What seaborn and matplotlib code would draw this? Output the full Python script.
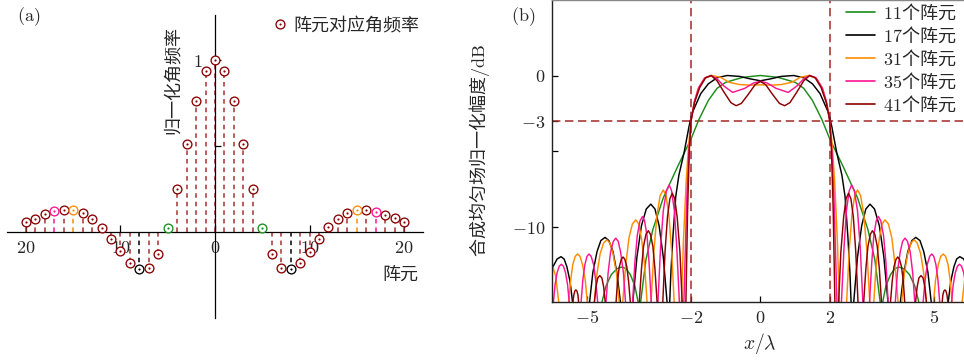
import numpy as np
import pandas as pd
import matplotlib
matplotlib.use("Agg")
import matplotlib.pyplot as plt
import seaborn as sns
from matplotlib.lines import Line2D
from matplotlib.legend_handler import HandlerTuple

# ---------------- data: panel (a) ----------------
elements = list(range(-20, 21))
ang_freq = [0.058, 0.074, 0.103, 0.122, 0.126, 0.126, 0.109, 0.074, 0.025, -0.042,
            -0.110, -0.182, -0.217, -0.207, -0.130, 0.025, 0.252, 0.513, 0.762, 0.936,
            1.000,
            0.936, 0.762, 0.513, 0.252, 0.025, -0.130, -0.207, -0.217, -0.178, -0.114,
            -0.039, 0.029, 0.074, 0.109, 0.126, 0.126, 0.118, 0.099, 0.078, 0.058]

array_sizes = [11, 17, 31, 35, 41]
size_labels = ["$11$个阵元", "$17$个阵元", "$31$个阵元", "$35$个阵元", "$41$个阵元"]
size_colors = ["#1c8c1c", "#000000", "#ff8c00", "#ff1493", "#8b0000"]

# ---------------- data: panel (b), x >= 0 half (pattern is symmetric) ----------------
x_11 = [0, 0.5, 1.0, 1.25, 1.5, 1.77, 2.0, 2.4, 2.8, 3.1, 3.3, 3.47,
        3.50, 3.62, 3.75, 3.87, 3.99, 4.14, 4.30, 4.45, 4.60]
db_11 = [0, -0.12, -0.45, -0.85, -1.65, -2.9, -4.2, -6.1, -8.1, -10.2, -12.2, -15.3,
         -15.3, -13.93, -13.19, -12.80, -12.68, -12.80, -13.19, -13.93, -15.3]

x_17 = [0, 0.3, 0.6, 0.96, 1.25, 1.5, 1.72, 1.97, 2.06, 2.20, 2.35, 2.44, 2.52, 2.58, 2.62,
        2.68, 2.80, 2.92, 3.04, 3.16, 3.29, 3.43, 3.56, 3.69,
        4.02, 4.14, 4.25, 4.37, 4.48, 4.60, 4.71, 4.83, 4.94,
        5.40, 5.49, 5.58, 5.66, 5.75, 5.86, 5.98, 6.09, 6.20]
db_17 = [-0.35, -0.22, -0.06, 0, -0.15, -0.55, -1.2, -2.5, -3.4, -5.1, -6.6, -8.0, -10.6, -13.0, -15.3,
         -15.3, -12.02, -9.95, -8.84, -8.52, -8.84, -9.95, -12.02, -15.3,
         -15.3, -13.03, -11.66, -10.93, -10.72, -10.93, -11.66, -13.03, -15.3,
         -15.3, -13.62, -12.66, -12.15, -12.0, -12.15, -12.66, -13.62, -15.3]

x_31 = [0, 0.3, 0.6, 0.9, 1.15, 1.40, 1.62, 1.80, 1.92, 2.0, 2.07, 2.14, 2.22, 2.28,
        2.48, 2.56, 2.64, 2.72, 2.80, 2.89, 2.98, 3.07, 3.16,
        3.26, 3.34, 3.43, 3.51, 3.59, 3.69, 3.79, 3.88, 3.98,
        4.06, 4.15, 4.25, 4.34, 4.43, 4.52, 4.62, 4.71, 4.80,
        4.98, 5.05, 5.13, 5.20, 5.27, 5.34, 5.41, 5.47, 5.54,
        5.80, 5.90, 6.00, 6.10]
db_31 = [-0.62, -0.64, -0.6, -0.45, -0.12, 0, -0.2, -0.9, -1.9, -3.0, -4.6, -7.0, -11.0, -15.3,
         -15.3, -11.59, -9.21, -7.95, -7.58, -7.95, -9.21, -11.59, -15.3,
         -15.3, -12.50, -10.76, -9.83, -9.56, -9.83, -10.76, -12.50, -15.3,
         -15.3, -13.10, -11.79, -11.09, -10.88, -11.09, -11.79, -13.10, -15.3,
         -15.3, -13.54, -12.52, -11.98, -11.82, -11.98, -12.52, -13.54, -15.3,
         -15.3, -13.3, -12.6, -12.4]

x_35 = [0, 0.2, 0.45, 0.8, 1.05, 1.25, 1.42, 1.6, 1.78, 1.9, 2.0, 2.06, 2.12, 2.17, 2.21,
        2.33, 2.41, 2.48, 2.56, 2.63, 2.71, 2.80, 2.88, 2.96,
        3.14, 3.21, 3.27, 3.34, 3.40, 3.47, 3.55, 3.62, 3.69,
        3.88, 3.95, 4.03, 4.10, 4.17, 4.24, 4.32, 4.39, 4.46,
        4.68, 4.75, 4.81, 4.88, 4.94, 5.00, 5.06, 5.12, 5.18,
        5.50, 5.56, 5.62, 5.68, 5.74, 5.80, 5.86, 5.92, 5.98]
db_35 = [-0.38, -0.5, -0.85, -1.12, -0.7, -0.22, 0, -0.15, -0.8, -1.7, -3.0, -5.0, -8.0, -12.0, -15.3,
         -15.3, -11.44, -8.96, -7.64, -7.25, -7.64, -8.96, -11.44, -15.3,
         -15.3, -12.40, -10.59, -9.62, -9.34, -9.62, -10.59, -12.40, -15.3,
         -15.3, -13.05, -11.70, -10.98, -10.77, -10.98, -11.70, -13.05, -15.3,
         -15.3, -13.54, -12.52, -11.98, -11.82, -11.98, -12.52, -13.54, -15.3,
         -15.3, -13.85, -13.05, -12.63, -12.5, -12.63, -13.05, -13.85, -15.3]

x_41 = [0, 0.15, 0.35, 0.55, 0.70, 0.85, 1.05, 1.25, 1.42, 1.58, 1.75, 1.9, 2.0, 2.05, 2.10, 2.15,
        2.25, 2.32, 2.40, 2.47, 2.54, 2.61, 2.68, 2.75, 2.82,
        2.97, 3.04, 3.10, 3.17, 3.23, 3.30, 3.37, 3.43, 3.50,
        3.74, 3.80, 3.85, 3.91, 3.96, 4.01, 4.07, 4.12, 4.17,
        4.46, 4.52, 4.57, 4.63, 4.69, 4.74, 4.80,
        5.23, 5.26, 5.29, 5.32, 5.35, 5.38, 5.42]
db_41 = [-0.4, -0.6, -1.25, -1.85, -2.0, -1.8, -1.1, -0.35, 0, -0.15, -0.8, -1.8, -3.0, -5.0, -9.0, -15.3,
         -15.3, -11.69, -9.38, -8.16, -7.8, -8.16, -9.38, -11.69, -15.3,
         -15.3, -12.83, -11.32, -10.52, -10.28, -10.52, -11.32, -12.83, -15.3,
         -15.3, -13.63, -12.68, -12.17, -12.02, -12.17, -12.68, -13.63, -15.3,
         -15.3, -13.99, -13.41, -13.25, -13.41, -13.99, -15.3,
         -15.3, -14.54, -14.27, -14.2, -14.27, -14.54, -15.3]

half_x = [x_11, x_17, x_31, x_35, x_41]
half_db = [db_11, db_17, db_31, db_35, db_41]

# ---------------- style ----------------
sns.set_theme(style="white")
plt.rcParams["font.family"] = ["Noto Sans CJK SC", "DejaVu Sans"]
plt.rcParams["mathtext.fontset"] = "cm"
plt.rcParams["axes.unicode_minus"] = True

fig = plt.figure(figsize=(9.64, 3.6), dpi=100)
W, H = 964.0, 360.0

# ================= panel (a) =================
axA = fig.add_axes([7 / W, 42 / H, 416 / W, 303 / H])
axA.set_facecolor("white")
circle_col = "#8b0000"
stem_col = "#a83232"
edge_color = {}
for n_el, c in zip(array_sizes, size_colors):
    edge_color[(n_el - 1) // 2] = c
pt_colors = [edge_color.get(abs(e), circle_col) for e in elements]
st_colors = [edge_color.get(abs(e), stem_col) if abs(e) != 20 else stem_col for e in elements]

dfA = pd.DataFrame({"n": elements, "v": ang_freq, "c": pt_colors})
axA.vlines(dfA["n"], 0, dfA["v"], colors=st_colors, linestyles=(0, (3.0, 2.6)),
           linewidth=1.1, zorder=2)
for c, sub in dfA.groupby("c"):
    sns.scatterplot(data=sub, x="n", y="v", ax=axA, color="white", edgecolor=c,
                    linewidth=0.95, s=40, zorder=3, legend=False)
    sns.scatterplot(data=sub, x="n", y="v", ax=axA, color=c, edgecolor=c,
                    linewidth=0, s=2.5, zorder=4, legend=False)

axA.set_xlim(-22, 22)
axA.set_ylim(-0.5, 1.26)
for s in ["top", "right"]:
    axA.spines[s].set_visible(False)
axA.spines["left"].set_position(("data", 0))
axA.spines["bottom"].set_position(("data", 0))
for s in ["left", "bottom"]:
    axA.spines[s].set_color("black")
    axA.spines[s].set_linewidth(0.9)
axA.set_xticks([-20, -10, 0, 10, 20])
axA.set_xticklabels(["$20$", "$10$", "$0$", "$10$", "$20$"])
axA.set_yticks([0.5, 1.0])
axA.set_yticklabels(["", "$1$"])
axA.tick_params(axis="x", direction="in", length=5, width=0.9, color="black",
                labelsize=13, pad=5, bottom=True)
axA.tick_params(axis="y", direction="in", length=4, width=0.9, color="black",
                labelsize=13, pad=9, left=True)
axA.set_xlabel("")
axA.set_ylabel("")

hA1 = Line2D([], [], marker="o", ls="none", mfc="white", mec=circle_col, ms=6.4, mew=0.95)
hA2 = Line2D([], [], marker="o", ls="none", mfc=circle_col, mec=circle_col, ms=1.5, mew=0)
fig.legend([(hA1, hA2)], ["阵元对应角频率"], handler_map={tuple: HandlerTuple(ndivide=1)},
           loc="center left", bbox_to_anchor=(273 / W, 1 - 25 / H), bbox_transform=fig.transFigure,
           frameon=False, fontsize=13, handlelength=0.8, handletextpad=0.35,
           borderpad=0, borderaxespad=0)

fig.text(173 / W, 1 - 26 / H, "归一化角频率", rotation=90, ha="center", va="top", fontsize=13)
fig.text(400 / W, 1 - 275 / H, "阵元", ha="center", va="center", fontsize=13)
fig.text(29 / W, 1 - 17 / H, r"$\mathrm{(a)}$", ha="center", va="center", fontsize=13)

# ================= panel (b) =================
axB = fig.add_axes([552.3 / W, 58 / H, 416.2 / W, 302 / H])
axB.set_facecolor("white")
rows = []
for lab, xs, ds in zip(size_labels, half_x, half_db):
    xs = np.asarray(xs, float)
    ds = np.asarray(ds, float)
    xf = np.concatenate([-xs[:0:-1], xs])
    df_ = np.concatenate([ds[:0:-1], ds])
    rows.append(pd.DataFrame({"x": xf, "db": df_, "N": lab}))
dfB = pd.concat(rows, ignore_index=True)

sns.lineplot(data=dfB, x="x", y="db", hue="N", hue_order=size_labels,
             palette=dict(zip(size_labels, size_colors)), estimator=None, sort=False,
             linewidth=1.05, ax=axB, legend=False)

ref_col = "#a02828"
for xv in (-2, 2):
    axB.axvline(xv, color=ref_col, linestyle=(0, (5.5, 3.0)), linewidth=1.1, zorder=1.5)
axB.axhline(-3, color=ref_col, linestyle=(0, (5.5, 3.0)), linewidth=1.1, zorder=1.5)

axB.set_xlim(-6, 6)
axB.set_ylim(-15, 5)
axB.set_xticks([-5, -2, 0, 2, 5])
axB.set_xticklabels(["$-5$", "$-2$", "$0$", "$2$", "$5$"])
axB.set_yticks([-10, -5, -3, 0])
axB.set_yticklabels(["$-10$", "", "$-3$", "$0$"])
axB.tick_params(axis="both", direction="in", length=4, width=0.9, color="black",
                labelsize=13, pad=5, bottom=True, left=True)
for s in axB.spines.values():
    s.set_color("#222222")
    s.set_linewidth(1.0)
axB.spines["top"].set_color("#888888")
axB.set_xlabel("")
axB.set_ylabel("")

handlesB = [Line2D([], [], color=c, lw=1.2) for c in size_colors]
fig.legend(handlesB, size_labels, loc="upper left", bbox_to_anchor=(846 / W, 1 - 2 / H),
           bbox_transform=fig.transFigure, frameon=False, fontsize=13,
           handlelength=1.6, handletextpad=0.45, labelspacing=0.14,
           borderpad=0, borderaxespad=0)

fig.text(480 / W, 1 - 150 / H, "合成均匀场归一化幅度$/\\mathrm{dB}$", rotation=90,
         ha="center", va="center", fontsize=13)
fig.text(760 / W, 1 - 344 / H, r"$x/\lambda$", ha="center", va="center", fontsize=14)
fig.text(523 / W, 1 - 17 / H, r"$\mathrm{(b)}$", ha="center", va="center", fontsize=13)

fig.savefig("out.png", dpi=100)
